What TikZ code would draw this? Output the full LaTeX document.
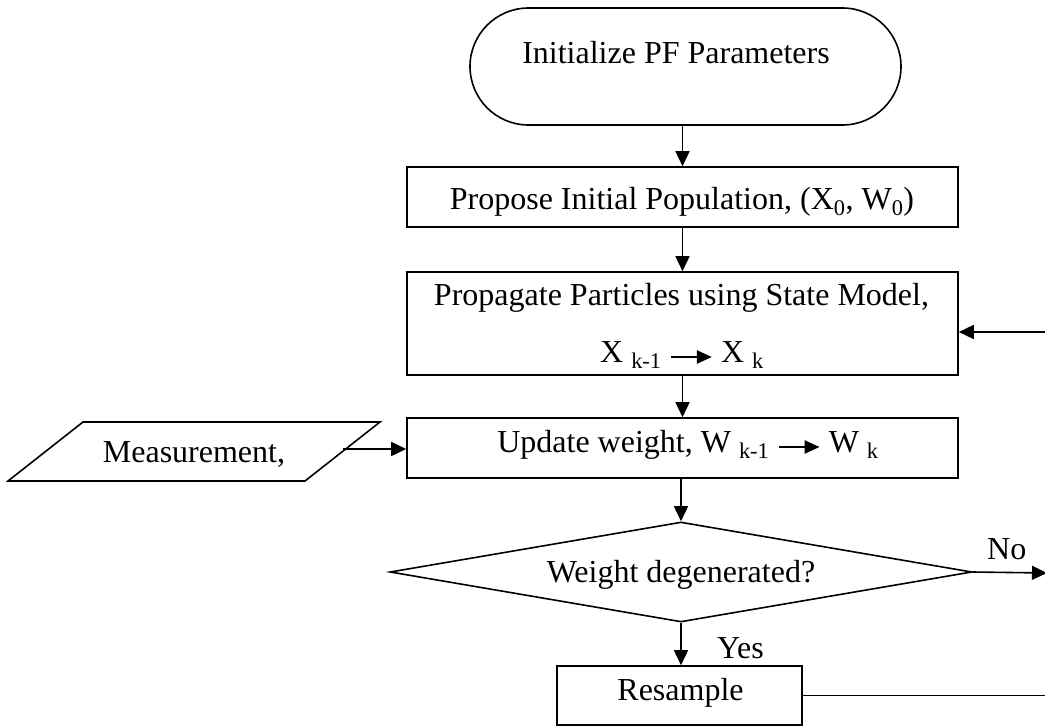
\documentclass[tikz,border=0pt]{standalone}
\usepackage{fontspec}
\setmainfont{Liberation Serif}
\usetikzlibrary{arrows.meta,shapes.geometric}
\newcommand\fsz{\fontsize{32}{38}\selectfont}
\newcommand\longarr{\tikz[baseline=-5pt,x=1pt,y=1pt]\draw[line width=2.4pt,-{Triangle[length=15pt,width=13pt]}] (0,0) -- (41,0);}
\tikzset{
  box/.style={draw, line width=1.6pt, inner sep=0pt, rectangle},
  lbl/.style={font=\fsz, anchor=base, inner sep=0pt},
  conn/.style={line width=1.6pt, -{Triangle[length=15pt,width=14pt]}},
  plain/.style={line width=1.6pt}
}
\begin{document}
\begin{tikzpicture}[x=1pt,y=-1pt]
\useasboundingbox (0,0) rectangle (1045,726);
\clip (0,0) rectangle (1045,726);
% shapes
\node[box, rounded corners=58.5pt, minimum width=431pt, minimum height=117pt] (init) at (685.5,66.5) {};
\node[box, minimum width=551pt, minimum height=60pt] (prop0) at (682.5,197) {};
\node[box, minimum width=551pt, minimum height=103pt] (prop) at (682.5,323.5) {};
\node[box, minimum width=551pt, minimum height=60pt] (upd) at (682.5,448) {};
\node[draw, line width=1.6pt, diamond, inner sep=0pt, minimum width=582pt, minimum height=100pt] (dia) at (681,572) {};
\node[box, minimum width=245pt, minimum height=59pt] (res) at (679.5,695.5) {};
% parallelogram (Measurement)
\coordinate (mTL) at (83,422);
\coordinate (mTR) at (380,422);
\coordinate (mBR) at (305,481);
\coordinate (mBL) at (8,481);
\draw[plain, line join=miter] (mTL) -- (mTR) -- (mBR) -- (mBL) -- cycle;
\coordinate (meas) at (343,449);
% texts
\node[lbl] (tinit) at (676,63) {Initialize PF Parameters};
\node[lbl] (tprop0) at (682,209) {Propose Initial Population, (X\textsubscript{0}, W\textsubscript{0})};
\node[lbl] (tprop1) at (681.5,305) {Propagate Particles using State Model,};
\node[lbl] (tprop2) at (682,362) {X \textsubscript{k-1} \longarr{} X \textsubscript{k}};
\node[lbl] (tupd) at (688,452) {Update weight, W \textsubscript{k-1} \longarr{} W \textsubscript{k}};
\node[lbl] (tdia) at (681,582) {Weight degenerated?};
\node[lbl] (tres) at (680.5,700) {Resample};
\node[lbl] (tmeas) at (194,462) {Measurement,};
\node[lbl, anchor=base west] (tyes) at (717,658) {Yes};
\node[lbl, anchor=base west] (tno) at (987,559) {No};
% edge coordinates
\coordinate (fb) at (1046,332);
\coordinate (noend) at (1047,573);
\coordinate (resend) at (1046,695.5);
% connectors
\draw[conn] (prop0.north |- init.south) -- (prop0.north);
\draw[conn] (prop0.south) -- (prop.north);
\draw[conn] (prop.south) -- (upd.north);
\draw[conn] (dia.north |- upd.south) -- (dia.north);
\draw[conn] (dia.south) -- (dia.south |- res.north);
\draw[conn] (meas) -- (meas -| upd.west);
\draw[conn] (fb) -- (fb -| prop.east);
\draw[conn] (dia.east) -- (noend);
\draw[plain] (res.east) -- (resend);
\end{tikzpicture}
\end{document}
